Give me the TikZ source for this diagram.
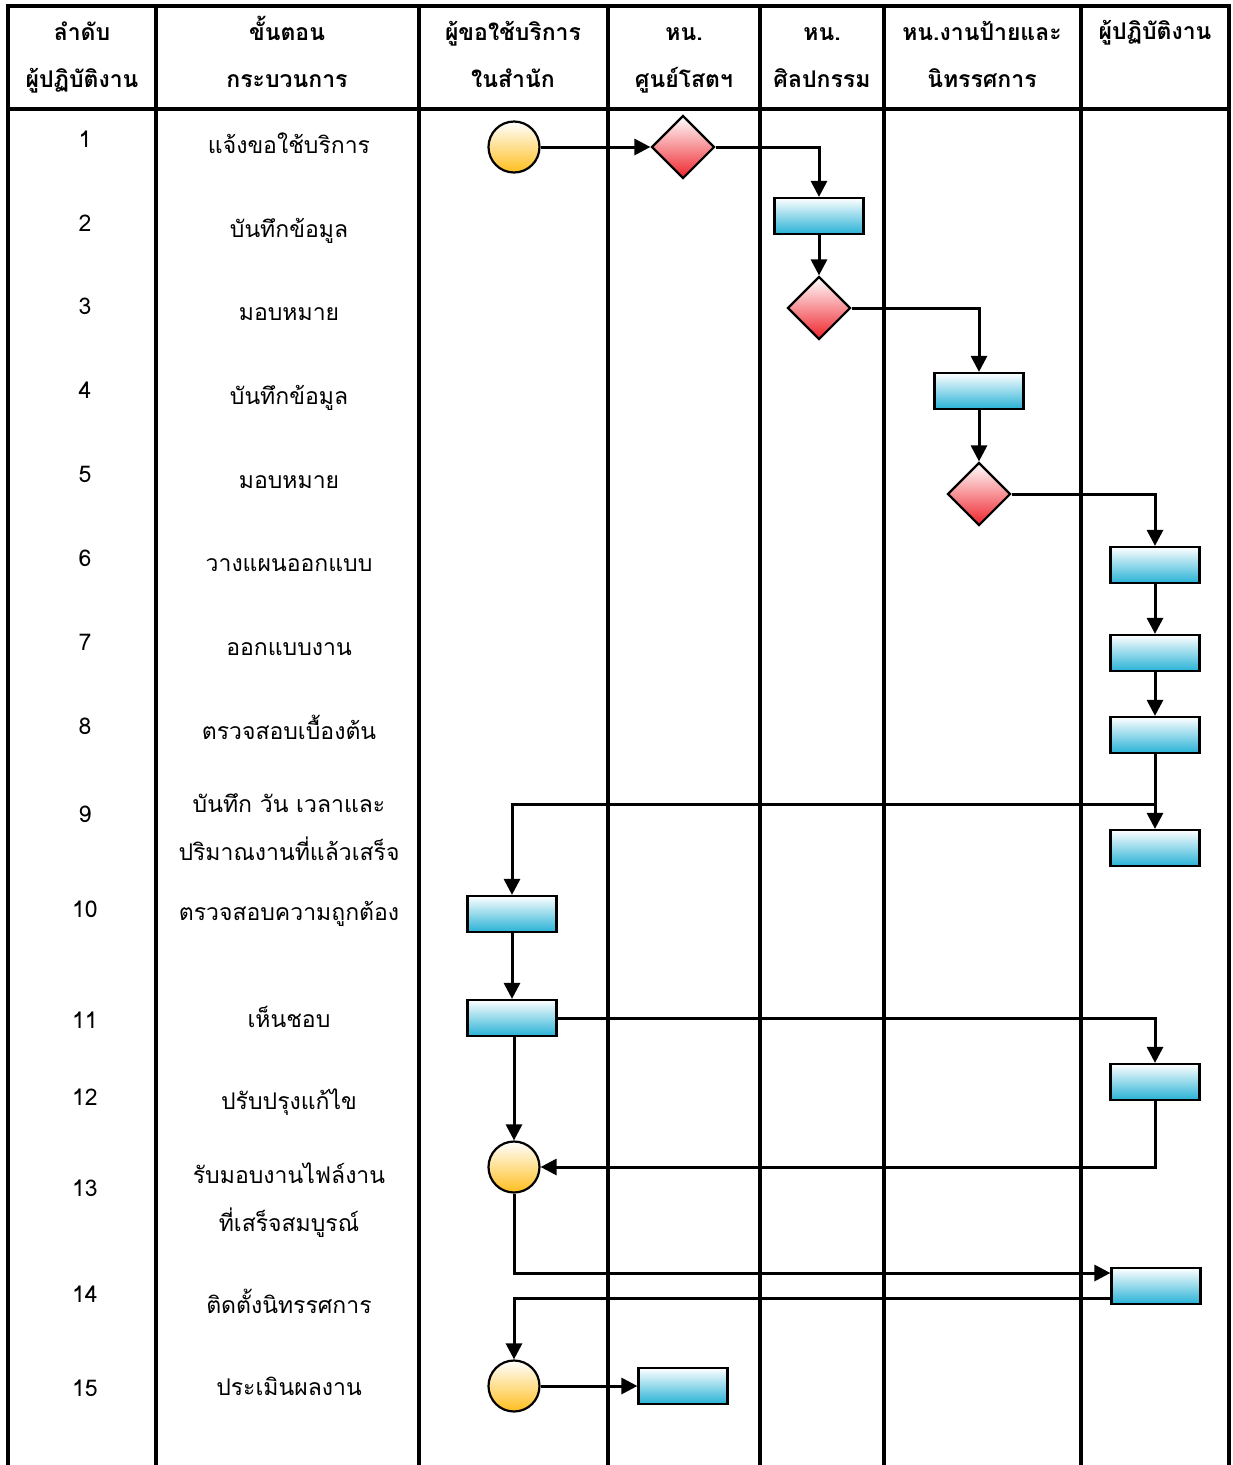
\documentclass[tikz,border=0pt]{standalone}
\usepackage{fontspec}
\setmainfont[Script=Thai]{Loma}
\usetikzlibrary{arrows.meta, shapes.geometric, positioning}
\definecolor{boxblue}{RGB}{40,178,214}
\definecolor{dotorange}{RGB}{255,190,30}
\definecolor{askred}{RGB}{238,36,44}

\begin{document}
\begin{tikzpicture}[
            x=1pt, y=-1pt,
            lane/.style={line width=4pt},
            flow/.style={line width=3pt, -{Triangle[length=16pt, width=16pt]}},
            stepbox/.style={draw, line width=2.2pt, minimum width=89pt, minimum height=36pt,
                inner sep=0pt, top color=white, bottom color=boxblue},
            endpoint/.style={circle, draw, line width=2.2pt, minimum size=51pt,
                inner sep=0pt, top color=white, bottom color=dotorange},
            check/.style={diamond, draw, line width=2.2pt, minimum width=63pt, minimum height=63pt,
                inner sep=0pt, top color=white, bottom color=askred},
            head/.style={font=\fontsize{23}{47}\selectfont\bfseries, align=center, anchor=base},
            num/.style={font=\fontsize{23}{28}\selectfont, anchor=base},
            task/.style={font=\fontsize{23}{48}\selectfont, align=center, anchor=base}
        ]
        \useasboundingbox (0,0) rectangle (1232,1465);

        % table frame
        \draw[lane] (5.5,6) -- (1231,6);
        \draw[lane] (5.5,109) -- (1231,109);
        \draw[lane] (7.5,4) -- (7.5,1465);
        \draw[lane] (156,4) -- (156,1465);
        \draw[lane] (419,4) -- (419,1465);
        \draw[lane] (608,4) -- (608,1465);
        \draw[lane] (760,4) -- (760,1465);
        \draw[lane] (884,4) -- (884,1465);
        \draw[lane] (1081,4) -- (1081,1465);
        \draw[lane] (1229,4) -- (1229,1465);

        % headings (base = last line)
        \node[head] (hOrder) at (82,87) {ลำดับ\\ผู้ปฏิบัติงาน};
        \node[head] (hStep) at (287,87) {ขั้นตอน\\กระบวนการ};
        \node[head] (hClient) at (513,87) {ผู้ขอใช้บริการ\\ในสำนัก};
        \node[head] (hAudio) at (684,87) {หน.\\ศูนย์โสตฯ};
        \node[head] (hArt) at (822,87) {หน.\\ศิลปกรรม};
        \node[head] (hSign) at (982,87) {หน.งานป้ายและ\\นิทรรศการ};
        \node[head] (hStaff) at (1155,39) {ผู้ปฏิบัติงาน};

        % row numbers
        \node[num] (n1) at (85,147) {1};
        \node[num] (n2) at (85,231) {2};
        \node[num] (n3) at (85,314) {3};
        \node[num] (n4) at (85,398) {4};
        \node[num] (n5) at (85,482) {5};
        \node[num] (n6) at (85,566) {6};
        \node[num] (n7) at (85,650) {7};
        \node[num] (n8) at (85,734) {8};
        \node[num] (n9) at (85,822) {9};
        \node[num] (n10) at (85,917) {10};
        \node[num] (n11) at (85,1028) {11};
        \node[num] (n12) at (85,1105) {12};
        \node[num] (n13) at (85,1196) {13};
        \node[num] (n14) at (85,1302) {14};
        \node[num] (n15) at (85,1396) {15};

        % steps
        \node[task] (t1) at (289,153) {แจ้งขอใช้บริการ};
        \node[task] (t2) at (289,237) {บันทึกข้อมูล};
        \node[task] (t3) at (289,320) {มอบหมาย};
        \node[task] (t4) at (289,404) {บันทึกข้อมูล};
        \node[task] (t5) at (289,488) {มอบหมาย};
        \node[task] (t6) at (289,571) {วางแผนออกแบบ};
        \node[task] (t7) at (289,655) {ออกแบบงาน};
        \node[task] (t8) at (289,739) {ตรวจสอบเบื้องต้น};
        \node[task] (t9) at (289,860) {บันทึก วัน เวลาและ\\ปริมาณงานที่แล้วเสร็จ};
        \node[task] (t10) at (289,920) {ตรวจสอบความถูกต้อง};
        \node[task] (t11) at (289,1027) {เห็นชอบ};
        \node[task] (t12) at (289,1109) {ปรับปรุงแก้ไข};
        \node[task] (t13) at (289,1231) {รับมอบงานไฟล์งาน\\ที่เสร็จสมบูรณ์};
        \node[task] (t14) at (289,1313) {ติดตั้งนิทรรศการ};
        \node[task] (t15) at (289,1395) {ประเมินผลงาน};

        % flow shapes
        \node[endpoint] (start) at (514,147) {};
        \node[check] (chkAudio) at (683,147) {};
        \node[stepbox] (logArt) at (819,216) {};
        \node[check] (chkArt) at (819,308) {};
        \node[stepbox] (logSign) at (979,391) {};
        \node[check] (chkSign) at (979,494) {};
        \node[stepbox] (plan) at (1155,565) {};
        \node[stepbox] (design) at (1155,653) {};
        \node[stepbox] (review) at (1155,735) {};
        \node[stepbox] (record) at (1155,848) {};
        \node[stepbox] (verify) at (512,914) {};
        \node[stepbox] (approve) at (512,1018) {};
        \node[stepbox] (revise) at (1155,1082) {};
        \node[endpoint] (receive) at (514,1167) {};
        \node[stepbox] (install) at (1156,1286) {};
        \node[endpoint] (assess) at (514,1386) {};
        \node[stepbox] (result) at (683,1386) {};
        \coordinate (split) at (1155,804);

        % connectors
        \draw[flow] (start.east) -- (chkAudio.west);
        \draw[flow] (chkAudio.east) -| (logArt.north);
        \draw[flow] (logArt.south) -- (chkArt.north);
        \draw[flow] (chkArt.east) -| (logSign.north);
        \draw[flow] (logSign.south) -- (chkSign.north);
        \draw[flow] (chkSign.east) -| (plan.north);
        \draw[flow] (plan) -- (design);
        \draw[flow] (design) -- (review);
        \draw[flow] (review) -- (record);
        \draw[flow] (split) -| (verify.north);
        \draw[flow] (verify) -- (approve);
        \draw[flow] (approve.east) -| (revise.north);
        \draw[flow] (approve.south -| receive.north) -- (receive.north);
        \draw[flow] (revise.south) |- (receive.east);
        \draw[flow] (receive.south) |- ([yshift=13pt]install.west);
        \draw[flow] ([yshift=-12pt]install.west) -| (assess.north);
        \draw[flow] (assess) -- (result);
    \end{tikzpicture}
\end{document}
